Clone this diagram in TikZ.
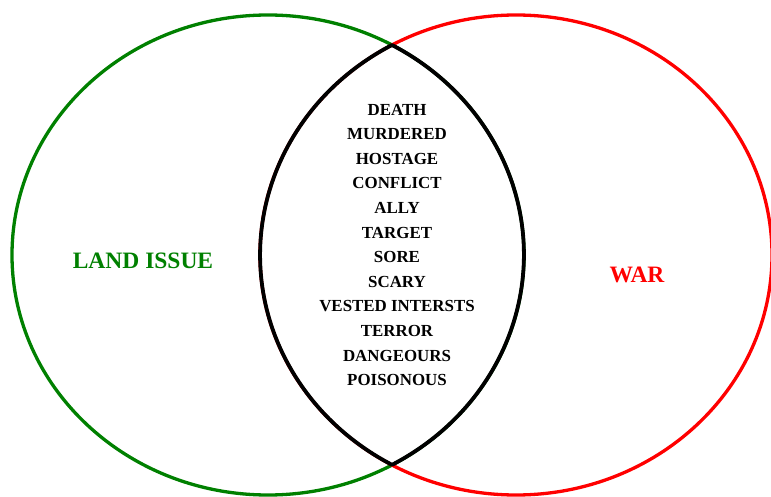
\documentclass[tikz,border=0pt]{standalone}
\usepackage{fontspec}
\setmainfont{Liberation Serif}
\usepackage{tikz}
\usetikzlibrary{positioning,calc}

\definecolor{landgreen}{RGB}{0,128,0}
\definecolor{warred}{RGB}{255,0,0}

\begin{document}
\begin{tikzpicture}[x=1pt,y=1pt,
    setline/.style={line width=3.3pt},
    lensline/.style={line width=3.8pt, black, line join=round},
    setlabel/.style={font=\fontsize{23.5}{27}\selectfont\bfseries, inner sep=0pt},
    words/.style={align=center, inner sep=0pt, font=\fontsize{16.9}{24.6}\selectfont\bfseries}]
    \useasboundingbox (0,0) rectangle (771,496);

    % --- the two sets ---
    \coordinate (GC) at (268,241);
    \coordinate (RC) at (516,241);
    \draw[setline, landgreen] (GC) ellipse [x radius=256, y radius=240];
    \draw[setline, warred] (RC) ellipse [x radius=256, y radius=240];

    % --- overlap outline ---
    \coordinate (Top) at (392,451);
    \coordinate (Bot) at (392,31);
    \draw[lensline] (Top) arc [start angle=119, end angle=241, x radius=256, y radius=240]
        arc [start angle=-61, end angle=61, x radius=256, y radius=240] -- cycle;

    % --- labels ---
    \node[setlabel, text=landgreen] (land) at (143,235) {LAND ISSUE};
    \node[setlabel, text=warred] (war) at (637,221) {WAR};
    \node[words] (common) at (397,251) {DEATH\\ MURDERED\\ HOSTAGE\\ CONFLICT\\ ALLY\\ TARGET\\
        SORE\\ SCARY\\ VESTED INTERSTS\\ TERROR\\ DANGEOURS\\ POISONOUS};
\end{tikzpicture}
\end{document}
